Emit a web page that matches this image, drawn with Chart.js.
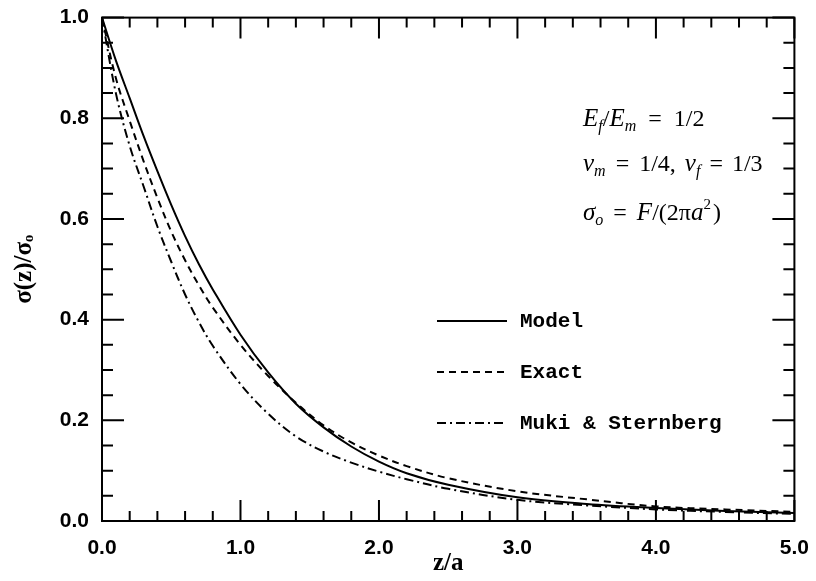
<!DOCTYPE html>
<html>
<head>
<meta charset="utf-8">
<script src="https://cdn.jsdelivr.net/npm/chart.js@4"></script>
<style>
  html, body { margin: 0; padding: 0; background: #fff; }
  #wrap { width: 816px; height: 581px; }
</style>
</head>
<body>
<div id="wrap"><canvas id="myChart" width="816" height="581"></canvas></div>
<script>
// z/a sample points and curves
const zValues = [0, 0.1, 0.2, 0.3, 0.4, 0.5, 0.6, 0.7, 0.8, 1.0, 1.2, 1.4, 1.6, 1.8, 2.0, 2.2, 2.5, 3.0, 3.5, 4.0, 4.5, 5.0];
const model = [1.0, 0.915, 0.84, 0.765, 0.695, 0.628, 0.566, 0.510, 0.460, 0.370, 0.295, 0.233, 0.186, 0.148, 0.118, 0.095, 0.072, 0.047, 0.034, 0.026, 0.020, 0.016];
const exact = [1.0, 0.88, 0.795, 0.715, 0.642, 0.575, 0.518, 0.468, 0.424, 0.350, 0.288, 0.235, 0.190, 0.156, 0.130, 0.109, 0.085, 0.059, 0.043, 0.029, 0.023, 0.018];
const muki = [1.0, 0.85, 0.745, 0.665, 0.585, 0.515, 0.450, 0.395, 0.348, 0.272, 0.213, 0.168, 0.138, 0.116, 0.098, 0.083, 0.064, 0.042, 0.031, 0.023, 0.018, 0.014];

const xTicks = [0, 1, 2, 3, 4, 5];
const yTicks = [0, 0.2, 0.4, 0.6, 0.8, 1.0];

function pts(ys) {
    return zValues.map((z, i) => ({ x: z, y: ys[i] }));
}

const ctx = document.getElementById('myChart').getContext('2d');

// inward ticks on all four sides plus the frame
const frameTicks = {
    id: 'frameTicks',
    afterDraw(chart) {
        const c = chart.ctx;
        const a = chart.chartArea;
        const xs = chart.scales.x;
        const ys = chart.scales.y;
        c.save();
        c.strokeStyle = '#000';
        c.lineWidth = 2;
        c.strokeRect(a.left, a.top, a.right - a.left, a.bottom - a.top);
        c.beginPath();
        for (let i = 0; i <= 25; i++) {
            const px = xs.getPixelForValue(i * 0.2);
            const len = (i % 5 === 0) ? 21 : 10;
            c.moveTo(px, a.bottom); c.lineTo(px, a.bottom - len);
            c.moveTo(px, a.top); c.lineTo(px, a.top + len);
        }
        for (let i = 0; i <= 20; i++) {
            const py = ys.getPixelForValue(i * 0.05);
            const len = (i % 4 === 0) ? 22 : 11;
            c.moveTo(a.left, py); c.lineTo(a.left + len, py);
            c.moveTo(a.right, py); c.lineTo(a.right - len, py);
        }
        c.stroke();
        c.restore();
    }
};

// legend inside the plot, drawn from dataset styles
const innerLegend = {
    id: 'innerLegend',
    afterDraw(chart) {
        const c = chart.ctx;
        const rows = [321, 372, 423];
        c.save();
        chart.data.datasets.forEach((ds, i) => {
            c.strokeStyle = ds.borderColor;
            c.lineWidth = 2;
            c.setLineDash(ds.borderDash || []);
            c.beginPath();
            c.moveTo(437, rows[i]);
            c.lineTo(507, rows[i]);
            c.stroke();
            c.setLineDash([]);
            c.fillStyle = '#000';
            c.font = 'bold 21px "Liberation Mono", monospace';
            c.textBaseline = 'middle';
            c.fillText(ds.label, 520, rows[i] + 1);
        });
        c.restore();
    }
};

// parameter annotations with sub/superscripts; numbers are pixel gaps
function drawRich(c, x, y, parts) {
    parts.forEach(p => {
        if (typeof p === 'number') { x += p; return; }
        const [t, kind] = p;
        let font = '24px "Liberation Serif", serif';
        let dy = 0;
        if (kind === 'i') font = 'italic 25px "Liberation Serif", serif';
        if (kind === 's') { font = 'italic 16px "Liberation Serif", serif'; dy = 5; }
        if (kind === 'p') { font = '15px "Liberation Serif", serif'; dy = -11; }
        c.font = font;
        c.fillText(t, x, y + dy);
        x += c.measureText(t).width;
    });
}

const notes = {
    id: 'notes',
    afterDraw(chart) {
        const c = chart.ctx;
        c.save();
        c.fillStyle = '#000';
        c.textBaseline = 'alphabetic';
        drawRich(c, 583, 126, [['E', 'i'], ['f', 's'], ['/', 'n'], ['E', 'i'], ['m', 's'], 12, ['=', 'n'], 12, ['1/2', 'n']]);
        drawRich(c, 583, 171, [['ν', 'i'], ['m', 's'], 10, ['=', 'n'], 10, ['1/4,', 'n'], 9, ['ν', 'i'], ['f', 's'], 9, ['=', 'n'], 9, ['1/3', 'n']]);
        drawRich(c, 583, 220, [['σ', 'i'], ['o', 's'], 10, ['=', 'n'], 10, ['F', 'i'], ['/(2π', 'n'], ['a', 'i'], ['2', 'p'], 2, [')', 'n']]);
        c.restore();
    }
};

const tickFont = { family: '"Liberation Sans", Arial, sans-serif', size: 21, weight: 'bold' };

const config = {
    type: 'scatter',
    data: {
        datasets: [
            { label: 'Model', data: pts(model), borderColor: '#000', borderWidth: 2, showLine: true, pointRadius: 0, tension: 0.35 },
            { label: 'Exact', data: pts(exact), borderColor: '#000', borderWidth: 2, borderDash: [7, 5], showLine: true, pointRadius: 0, tension: 0.35 },
            { label: 'Muki & Sternberg', data: pts(muki), borderColor: '#000', borderWidth: 2, borderDash: [9, 4, 2, 4], showLine: true, pointRadius: 0, tension: 0.35 }
        ]
    },
    options: {
        responsive: false,
        animation: false,
        layout: { padding: { top: 17, right: 18, left: 0, bottom: 0 } },
        plugins: { legend: { display: false }, tooltip: { enabled: false } },
        scales: {
            x: {
                type: 'linear', min: 0, max: 5,
                afterBuildTicks(s) { s.ticks = xTicks.map(v => ({ value: v })); },
                afterFit(s) { s.height = 60; },
                grid: { display: false },
                border: { display: false },
                ticks: { color: '#000', font: tickFont, padding: 7, callback: v => v.toFixed(1) },
                title: { display: true, text: 'z/a', color: '#000', padding: { top: 0, bottom: 2 },
                         font: { family: '"Liberation Serif", serif', size: 25, weight: 'bold' } }
            },
            y: {
                type: 'linear', min: 0, max: 1,
                afterBuildTicks(s) { s.ticks = yTicks.map(v => ({ value: v })); },
                afterFit(s) { s.width = 102; },
                grid: { display: false },
                border: { display: false },
                ticks: { color: '#000', font: tickFont, padding: 5, callback: v => v.toFixed(1) },
                title: { display: true, text: 'σ(z)/σₒ', color: '#000', padding: { top: 10, bottom: 4 },
                         font: { family: '"Liberation Serif", serif', size: 25, weight: 'bold' } }
            }
        }
    },
    plugins: [frameTicks, innerLegend, notes]
};

const myChart = new Chart(ctx, config);
</script>
</body>
</html>
